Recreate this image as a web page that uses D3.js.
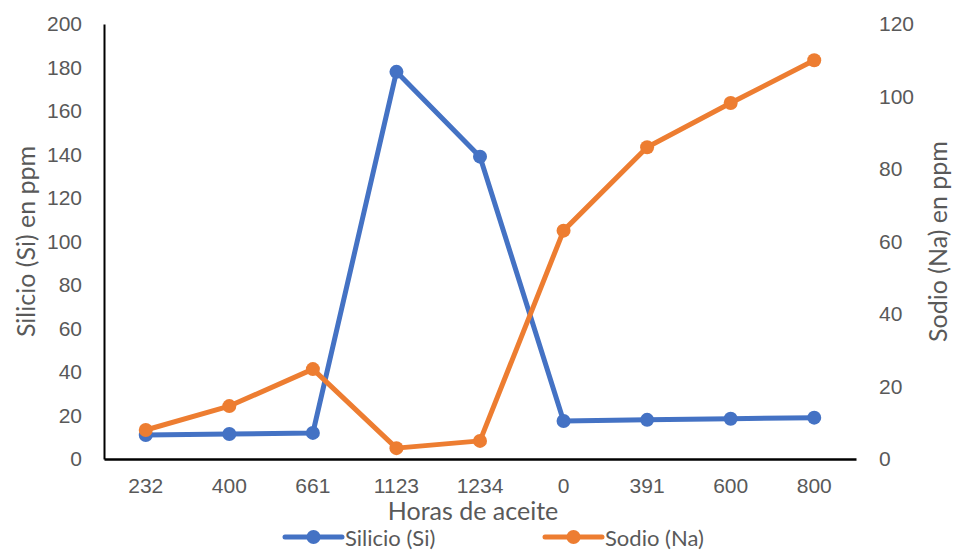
<!DOCTYPE html>
<html>
<head>
<meta charset="utf-8">
<script src="https://cdn.jsdelivr.net/npm/d3@7/dist/d3.min.js"></script>
<style>
  html, body { margin: 0; padding: 0; background: #fff; }
  svg { display: block; font-family: Lato, "Open Sans", sans-serif; }
</style>
</head>
<body>
<svg id="chart" width="953" height="550"></svg>
<script>
// Horas de aceite (categorías del eje X)
const categories = ["232", "400", "661", "1123", "1234", "0", "391", "600", "800"];
// Silicio (Si) en ppm — eje izquierdo
const silicio = [11, 11.5, 12, 178, 139, 17.5, 18, 18.5, 19];
// Sodio (Na) en ppm — eje derecho
const sodio = [8, 14.6, 24.8, 3, 5, 63, 86, 98.2, 110];
const leftTicks = [0, 20, 40, 60, 80, 100, 120, 140, 160, 180, 200];
const rightTicks = [0, 20, 40, 60, 80, 100, 120];

const svg = d3.select("#chart");
const margin = { left: 104, right: 97, top: 24, bottom: 91 };
const W = 953, H = 550;
const x0 = margin.left, x1 = W - margin.right;
const y0 = H - margin.bottom, y1 = margin.top;

const x = d3.scaleBand().domain(categories).range([x0, x1]).padding(0);
const yL = d3.scaleLinear().domain([0, 200]).range([y0, y1]);
const yR = d3.scaleLinear().domain([0, 120]).range([y0, y1]);

const blue = "#4472C4", orange = "#ED7D31", txt = "#595959";

// Left axis
const axL = svg.append("g").attr("transform", `translate(${x0},0)`)
  .call(d3.axisLeft(yL).tickValues(leftTicks).tickSize(0).tickPadding(22));
axL.select(".domain").attr("stroke", "#000").attr("stroke-width", 2);
axL.selectAll("text").attr("fill", txt).style("font-size", "21px");

// Right axis (labels only)
const axR = svg.append("g").attr("transform", `translate(${x1},0)`)
  .call(d3.axisRight(yR).tickValues(rightTicks).tickSize(0).tickPadding(23));
axR.select(".domain").remove();
axR.selectAll("text").attr("fill", txt).style("font-size", "21px");

// Bottom axis
const axB = svg.append("g").attr("transform", `translate(0,${y0})`)
  .call(d3.axisBottom(x).tickSize(0).tickPadding(19));
axB.select(".domain").attr("stroke", "#000").attr("stroke-width", 2.5);
axB.selectAll("text").attr("fill", txt).style("font-size", "21px");

// Axis titles
svg.append("text").attr("transform", `translate(25,${(y0 + y1) / 2}) rotate(-90)`)
  .attr("text-anchor", "middle").attr("dominant-baseline", "central")
  .attr("fill", txt).style("font-size", "25px").text("Silicio (Si) en ppm");
svg.append("text").attr("transform", `translate(937,${(y0 + y1) / 2}) rotate(-90)`)
  .attr("text-anchor", "middle").attr("dominant-baseline", "central")
  .attr("fill", txt).style("font-size", "25px").text("Sodio (Na) en ppm");
svg.append("text").attr("x", (x0 + x1) / 2 - 7).attr("y", 510)
  .attr("text-anchor", "middle").attr("dominant-baseline", "central")
  .attr("fill", txt).style("font-size", "25px").text("Horas de aceite");

const cx = d => x(d) + x.bandwidth() / 2;

function series(values, yScale, color) {
  const line = d3.line().x((d, i) => cx(categories[i])).y(d => yScale(d));
  svg.append("path").datum(values).attr("d", line)
    .attr("fill", "none").attr("stroke", color).attr("stroke-width", 5)
    .attr("stroke-linejoin", "round").attr("stroke-linecap", "round");
  svg.append("g").selectAll("circle").data(values).join("circle")
    .attr("cx", (d, i) => cx(categories[i])).attr("cy", d => yScale(d))
    .attr("r", 7).attr("fill", color);
}
series(silicio, yL, blue);
series(sodio, yR, orange);

// Legend
const legend = [
  { name: "Silicio (Si)", color: blue, x: 285 },
  { name: "Sodio (Na)", color: orange, x: 545 }
];
const lg = svg.append("g").selectAll("g").data(legend).join("g")
  .attr("transform", d => `translate(${d.x},537)`);
lg.append("line").attr("x1", 0).attr("x2", 57).attr("y1", 0).attr("y2", 0)
  .attr("stroke", d => d.color).attr("stroke-width", 5).attr("stroke-linecap", "round");
lg.append("circle").attr("cx", 28.5).attr("cy", 0).attr("r", 7).attr("fill", d => d.color);
lg.append("text").attr("x", 60).attr("y", 0).attr("dominant-baseline", "central")
  .attr("fill", txt).style("font-size", "22px").text(d => d.name);
</script>
</body>
</html>
